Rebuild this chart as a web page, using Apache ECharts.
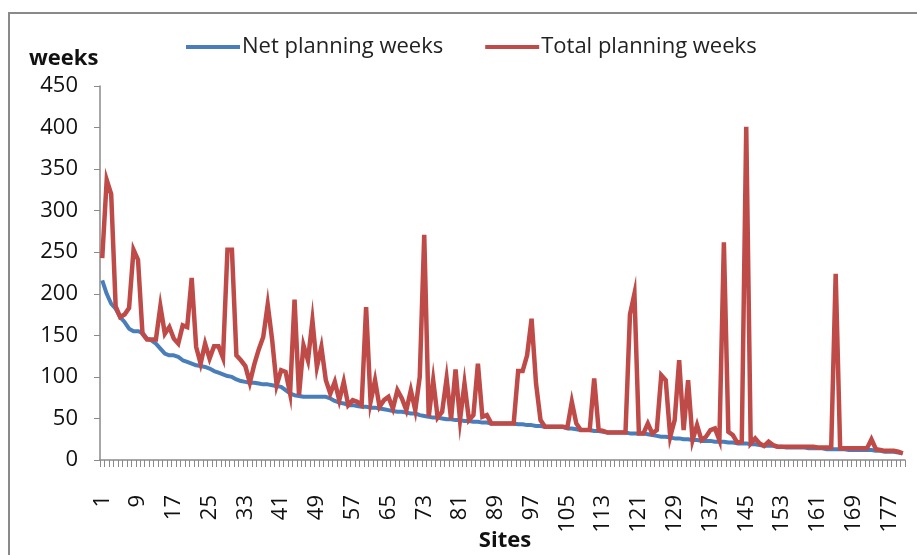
<!DOCTYPE html>
<html>
<head>
<meta charset="utf-8">
<script src="https://cdn.jsdelivr.net/npm/echarts@6/dist/echarts.min.js"></script>
<style>
html,body{margin:0;padding:0;background:#fff;}
#chart{width:917px;height:555px;}
</style>
</head>
<body>
<div id="chart"></div>
<script>
// ---- data ----
var seriesNames = ['Net planning weeks', 'Total planning weeks'];
var yTicks = [0, 50, 100, 150, 200, 250, 300, 350, 400, 450];
var xAxisTitle = 'Sites';
var yAxisTitle = 'weeks';
var netWeeks = [
216,200,188,182,172,166,158,155,155,153,146,144,140,134,128,126,126,124,120,118,
116,114,113,112,110,107,105,103,101,100,97,95,94,93,93,92,91,91,90,89,
88,84,80,78,77,76,76,76,76,76,76,74,71,69,68,66,66,65,64,64,
63,63,62,61,60,59,58,58,57,56,56,54,53,52,51,51,50,49,49,48,
48,47,47,46,46,45,45,44,44,44,44,44,44,43,43,42,42,41,41,40,
40,40,40,40,38,38,37,36,36,36,35,35,34,33,33,33,33,33,32,32,
32,32,31,30,29,28,28,27,26,26,25,25,24,24,23,23,23,22,22,22,
21,21,20,20,20,19,19,18,17,17,17,16,16,15,15,15,15,15,14,14,
14,14,13,13,13,13,13,12,12,12,12,12,12,11,11,10,10,10,9,8
];
var totalWeeks = [
243,337,320,185,172,175,183,253,241,152,145,145,145,185,152,160,146,140,162,160,
219,136,116,140,122,137,137,123,253,253,126,120,113,93,115,133,148,187,144,90,
108,106,80,193,78,138,120,168,112,136,96,80,94,72,94,66,72,70,66,184,
70,96,64,72,76,62,84,74,60,84,60,100,271,52,96,51,58,98,49,109,
48,92,48,54,116,52,54,44,44,44,44,44,44,107,107,126,170,92,48,40,
40,40,40,40,39,70,44,36,36,36,98,36,35,33,33,33,33,33,175,200,
32,32,44,32,36,102,96,28,48,120,36,96,24,42,24,28,36,38,24,262,
34,30,21,22,401,20,26,20,17,22,18,16,16,16,16,16,16,16,16,16,
15,15,15,15,224,14,14,14,14,14,14,14,25,13,12,11,11,11,10,8
];
var sites = [];
for (var i = 1; i <= netWeeks.length; i++) sites.push(String(i));

var FONT = 'Open Sans';
var chart = echarts.init(document.getElementById('chart'), null, {renderer: 'canvas'});
chart.setOption({
  animation: false,
  backgroundColor: '#ffffff',
  textStyle: {fontFamily: FONT},
  graphic: [
    {type: 'rect', silent: true, z: -1,
     shape: {x: 9, y: 13, width: 1000, height: 1000},
     style: {fill: 'none', stroke: '#8a8a8a', lineWidth: 2}},
    {type: 'text', left: 29, top: 48,
     style: {text: yAxisTitle, font: 'bold 22px "Open Sans"', fill: '#111'}},
    {type: 'text', x: 505, y: 541,
     style: {text: xAxisTitle, font: 'bold 22px "Open Sans"', fill: '#111',
             align: 'center', verticalAlign: 'middle'}}
  ],
  legend: {
    left: 181, top: 31,
    itemWidth: 54, itemHeight: 4, itemGap: 42,
    icon: 'rect',
    textStyle: {fontSize: 22, color: '#222', fontFamily: FONT, padding: [0, 0, 0, -3]},
    data: seriesNames
  },
  grid: {left: 100, right: 12, top: 86, bottom: 95, containLabel: false, outerBoundsMode: 'none'},
  xAxis: {
    type: 'category',
    data: sites,
    boundaryGap: true,
    axisLine: {lineStyle: {color: '#8a8a8a', width: 1.5}},
    axisTick: {show: true, interval: 0, length: 7, lineStyle: {color: '#8a8a8a'}},
    axisLabel: {interval: 7, rotate: 90, margin: 35, fontSize: 22, color: '#111', fontFamily: FONT}
  },
  yAxis: {
    type: 'value',
    min: 0, max: 450, interval: 50,
    axisLine: {show: true, lineStyle: {color: '#8a8a8a', width: 1.5}},
    axisTick: {show: true, length: 6, lineStyle: {color: '#8a8a8a'}},
    splitLine: {show: false},
    axisLabel: {fontSize: 22, color: '#111', margin: 22, fontFamily: FONT}
  },
  series: [
    {name: seriesNames[0], type: 'line', data: netWeeks, showSymbol: false, symbol: 'none',
     lineStyle: {color: '#4A7EBB', width: 4}, itemStyle: {color: '#4A7EBB'}, z: 2},
    {name: seriesNames[1], type: 'line', data: totalWeeks, showSymbol: false, symbol: 'none',
     lineStyle: {color: '#BE4B48', width: 4.5, join: 'miter'}, itemStyle: {color: '#BE4B48'}, z: 3}
  ]
});
</script>
</body>
</html>
